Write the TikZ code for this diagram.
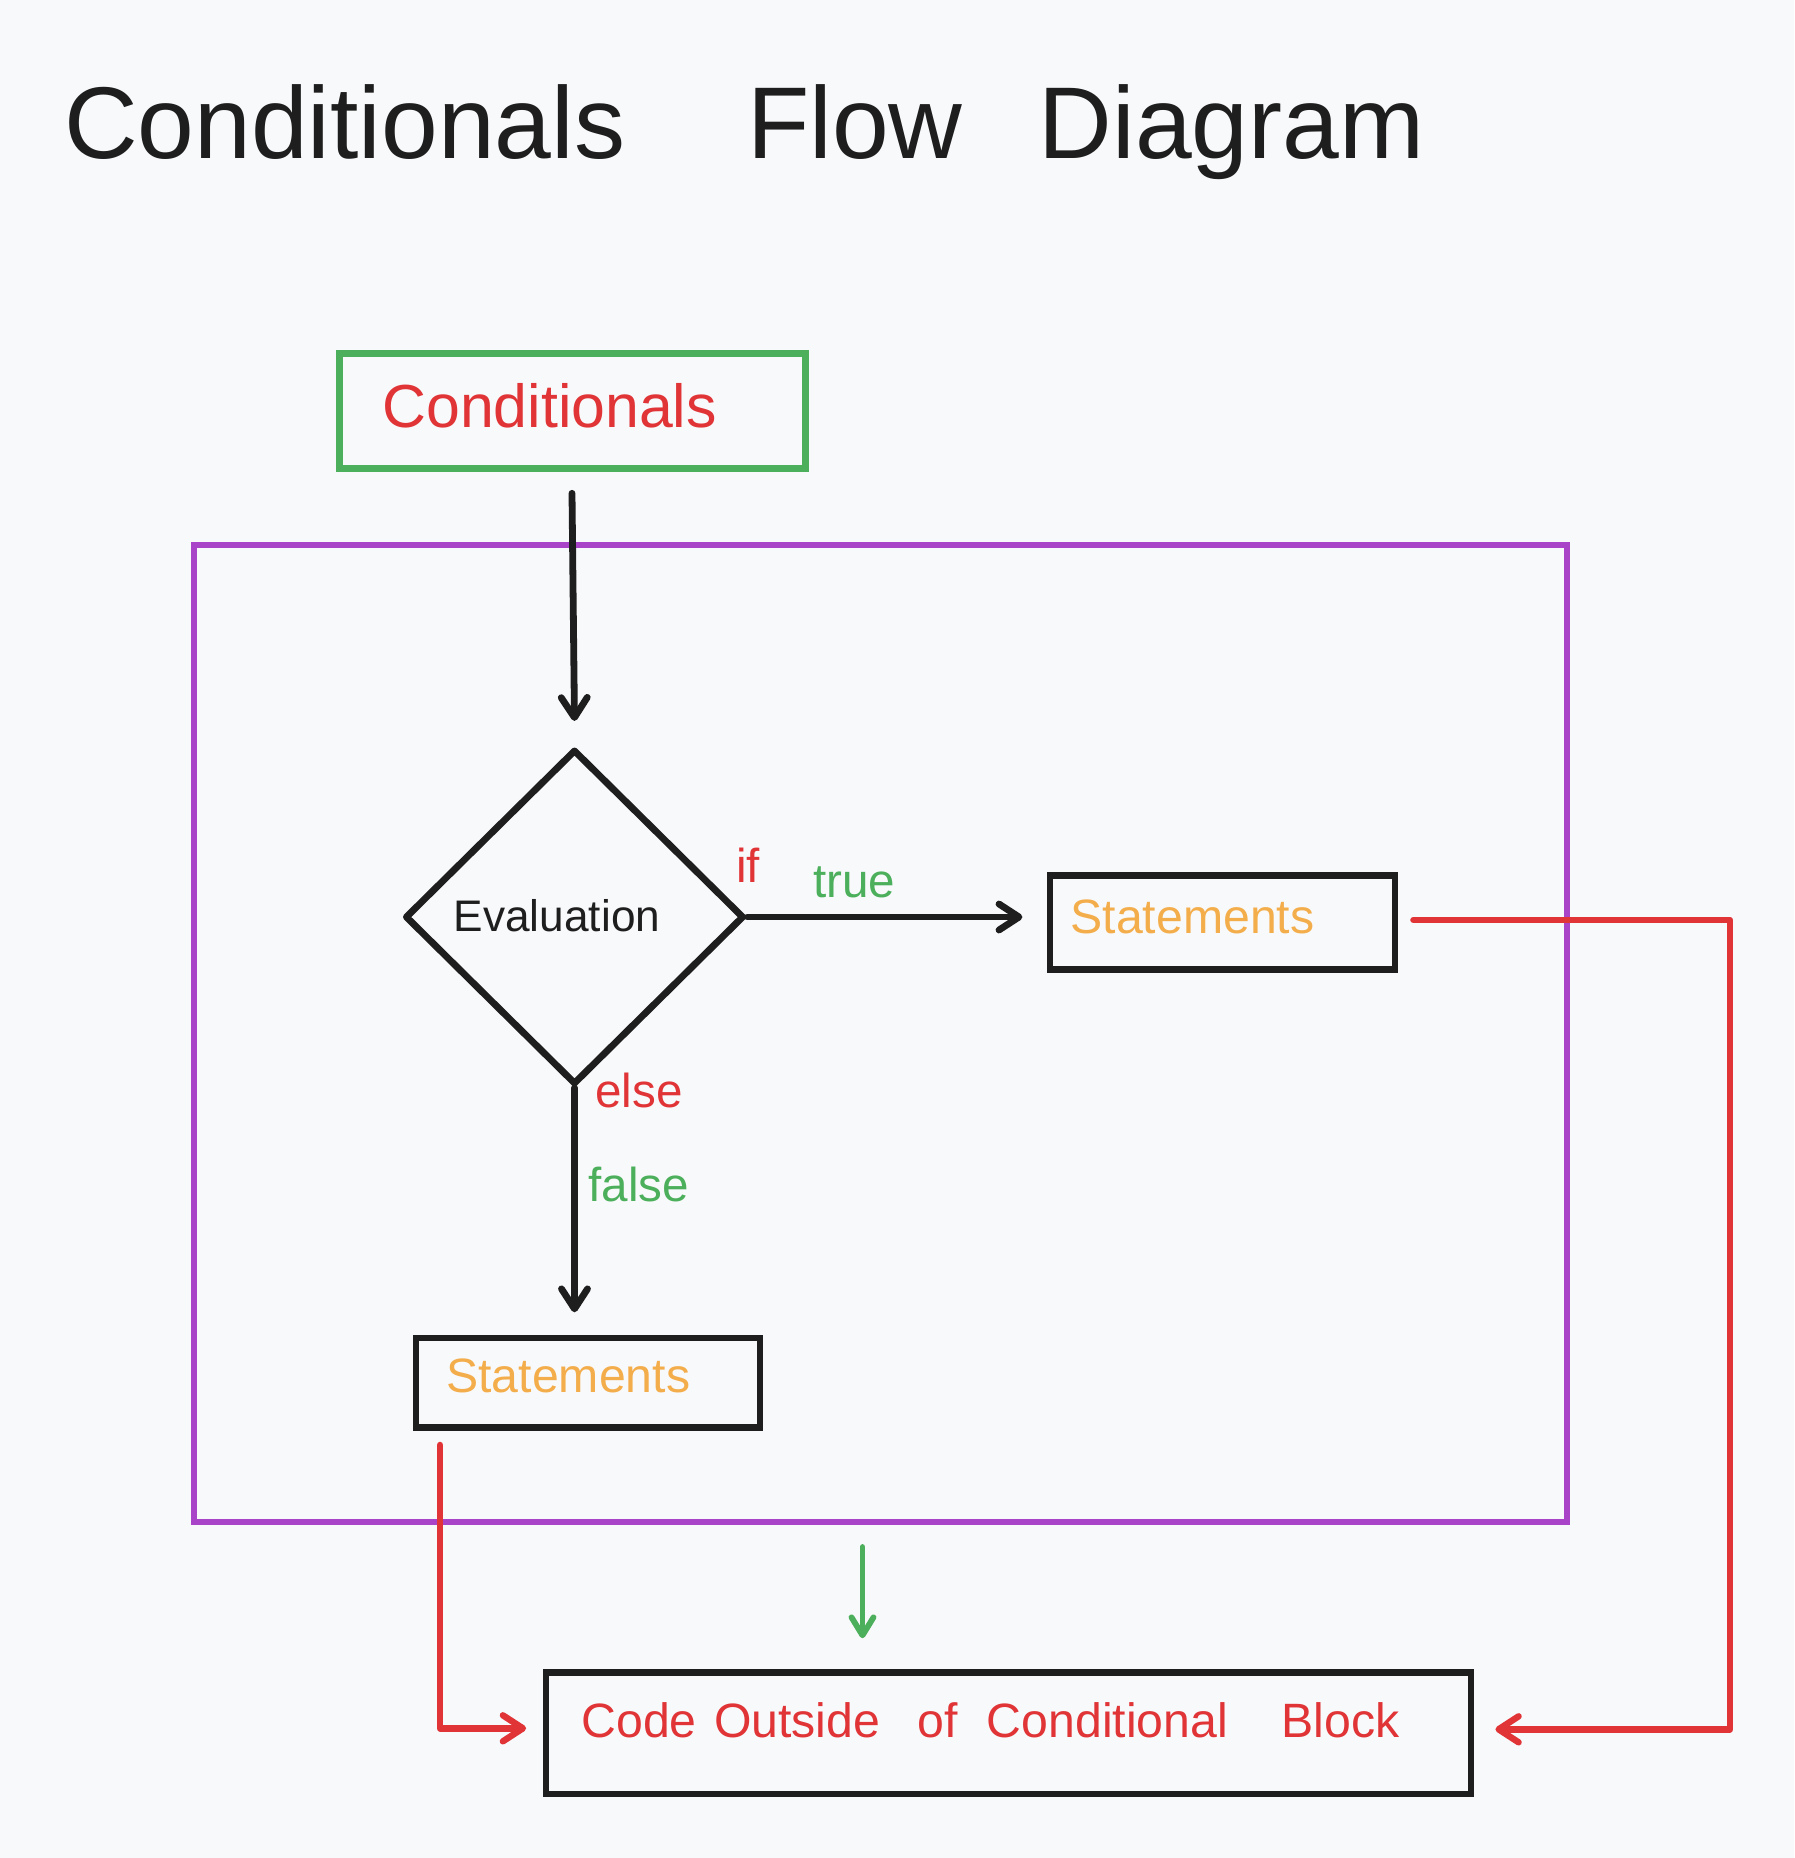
\documentclass[tikz,border=0pt]{standalone}
\usepackage{fontspec}
\setmainfont{Liberation Sans}
\usetikzlibrary{shapes.geometric,arrows.meta}

\definecolor{ink}{HTML}{1E1E1E}
\definecolor{flowred}{HTML}{E03436}
\definecolor{flowgreen}{HTML}{4CAF5B}
\definecolor{flowpurple}{HTML}{A944C8}
\definecolor{floworange}{HTML}{F4AD4B}
\definecolor{paper}{HTML}{F8F9FB}

\begin{document}
\begin{tikzpicture}[x=0.5pt, y=-0.5pt,
        >={Straight Barb[length=10pt,width=13pt,round]},
        box/.style = {draw=ink, line width=3.4pt, rectangle, inner sep=0pt},
        txt/.style = {inner sep=0pt, anchor=base west},
        flow/.style = {ink, line width=3.4pt, line cap=round, ->},
        redflow/.style = {flowred, line width=3.2pt, line cap=round, line join=round, ->},
        greenflow/.style = {flowgreen, line width=2.9pt, line cap=round, -{Straight Barb[length=9pt,width=11pt,round]}}]
        \fill[paper] (0,0) rectangle (1794,1858);
        \useasboundingbox (0,0) rectangle (1794,1858);

        % title
        \node[txt, text=ink, font=\fontsize{51}{61}\selectfont] (title) at (63.6,158) {Conditionals\hspace{61pt}Flow\hspace{38.2pt}Diagram};

        % shapes
        \node[box, draw=flowpurple, line width=3pt, minimum width=686.5pt, minimum height=488.5pt] (block) at (880.5,1033.5) {};
        \node[box, draw=flowgreen, line width=3.5pt, minimum width=233pt, minimum height=57.5pt] (cond) at (572,410.7) {};
        \node[draw=ink, line width=3.4pt, line join=round, diamond, inner sep=0pt, minimum width=169.5pt, minimum height=167.5pt] (eval) at (574.5,917) {};
        \node[box, minimum width=172.5pt, minimum height=47pt] (rstmt) at (1222.5,922.5) {};
        \node[box, minimum width=172pt, minimum height=44.75pt] (lstmt) at (588,1382.8) {};
        \node[box, minimum width=462.5pt, minimum height=60.7pt] (code) at (1008.5,1733.3) {};

        % texts
        \node[txt, text=flowred, font=\fontsize{30.4}{36}\selectfont] (condtxt) at ([xshift=23.2pt,yshift=-8.15pt]cond.west) {Conditionals};
        \node[txt, anchor=base, text=ink, font=\fontsize{22.1}{26}\selectfont] (evaltxt) at ([xshift=-8.75pt,yshift=-7.3pt]eval.center) {Evaluation};
        \node[txt, text=floworange, font=\fontsize{24.1}{28}\selectfont] (rstmttxt) at ([xshift=11.75pt,yshift=-5.25pt]rstmt.west) {Statements};
        \node[txt, text=floworange, font=\fontsize{24.1}{28}\selectfont] (lstmttxt) at ([xshift=16.7pt,yshift=-4.6pt]lstmt.west) {Statements};
        \node[txt, text=flowred, font=\fontsize{24.1}{28}\selectfont] (codetxt) at ([xshift=19.2pt,yshift=-2pt]code.west) {Code\hspace{8.8pt}Outside\hspace{18.8pt}of\hspace{14.4pt}Conditional\hspace{26.8pt}Block};

        % branch labels
        \node[txt, text=flowred, font=\fontsize{23.8}{28}\selectfont] (iflbl) at (736,882) {if};
        \node[txt, text=flowgreen, font=\fontsize{23.8}{28}\selectfont] (truelbl) at (813,897) {true};
        \node[txt, text=flowred, font=\fontsize{23.8}{28}\selectfont] (elselbl) at (595,1107) {else};
        \node[txt, text=flowgreen, font=\fontsize{23.8}{28}\selectfont] (falselbl) at (588,1201) {false};

        % connectors
        \coordinate (rcorner) at (1730,920);
        \coordinate (gx) at (862.5,1600);
        \draw[flow] ([yshift=-10.8pt]cond.south) -- ([yshift=12.6pt]eval.north);
        \draw[flow] (eval.east) -- ([xshift=-12.1pt]eval.east -| rstmt.west);
        \draw[flow] (eval.south) -- ([yshift=11.2pt]eval.south |- lstmt.north);
        \draw[greenflow] ([yshift=-11pt]block.south -| gx) -- ([yshift=15.5pt]code.north -| gx);
        \draw[redflow] ([xshift=13.75pt,yshift=-7pt]lstmt.south west) |- ([xshift=-8.25pt,yshift=2.5pt]code.west);
        \draw[redflow] ([xshift=7.5pt,yshift=1.25pt]rstmt.east) -- (rcorner) |- ([xshift=10.5pt,yshift=2pt]code.east);
    \end{tikzpicture}
\end{document}
